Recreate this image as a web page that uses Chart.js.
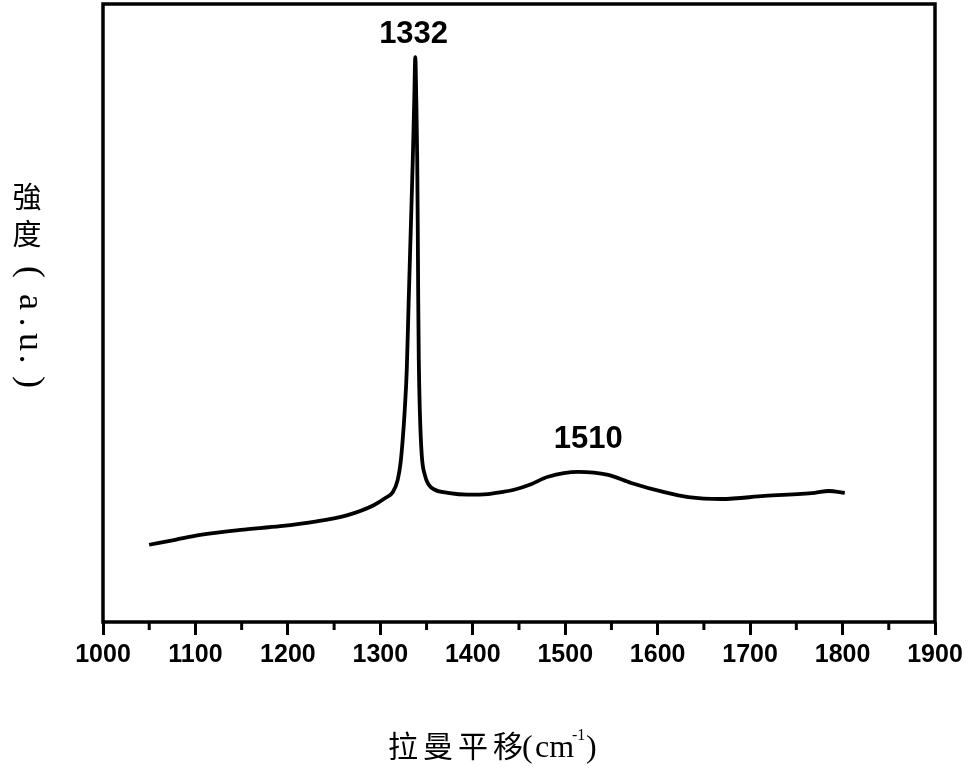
<!DOCTYPE html>
<html lang="zh-TW">
<head>
    <meta charset="UTF-8">
    <title>Raman</title>
    <script src="https://cdn.jsdelivr.net/npm/chart.js"></script>
    <style>
        html, body { margin: 0; padding: 0; background: #fff; }
    </style>
</head>
<body>
    <canvas id="ramanChart" width="968" height="773"></canvas>

    <script>
        // espectro Raman
        const ramanShift = [1049.9, 1078.1, 1105.2, 1148.6, 1191.9, 1227.7, 1264.6, 1292.8, 1305.8, 1313.4,
            1318.8, 1322.0, 1324.2, 1326.4, 1328.6, 1330.7, 1332.9, 1335.1, 1336.7, 1337.8,
            1338.9, 1339.9, 1340.5, 1341.0, 1341.6, 1342.7, 1344.8, 1348.1, 1352.4, 1358.9,
            1373.0, 1394.7, 1416.4, 1430.5, 1444.6, 1463.0, 1481.4, 1514.0, 1546.5, 1571.4,
            1607.2, 1633.3, 1669.0, 1715.7, 1769.9, 1785.1, 1802.4];
        const intensity = [12.5, 13.3, 14.1, 14.9, 15.5, 16.2, 17.3, 18.9, 20.1, 21.0,
            23.0, 25.9, 29.5, 34.3, 40.8, 52.1, 63.4, 74.8, 84.5, 91.4,
            84.5, 74.8, 63.4, 52.1, 42.4, 34.3, 27.0, 23.8, 22.2, 21.4,
            20.9, 20.6, 20.7, 21.0, 21.4, 22.3, 23.5, 24.3, 23.8, 22.5,
            21.0, 20.2, 19.9, 20.4, 20.9, 21.2, 20.9];

        const xTicks = [1000, 1100, 1200, 1300, 1400, 1500, 1600, 1700, 1800, 1900];
        const xMinorTicks = [1050, 1150, 1250, 1350, 1450, 1550, 1650, 1750, 1850];

        const peakLabels = ['1332', '1510'];
        const peakLabelX = [1336, 1525];
        const peakLabelY = [95, 29.5];

        const cjkFont = '"Noto Sans CJK TC", "Noto Sans CJK JP", sans-serif';

        // moldura, ticks menores, rótulos dos picos e títulos dos eixos
        const extras = {
            id: 'extras',
            afterDraw(chart) {
                const ctx = chart.ctx;
                const a = chart.chartArea;
                const xs = chart.scales.x;
                const ys = chart.scales.y;
                ctx.save();

                ctx.strokeStyle = '#000';
                ctx.lineWidth = 3.5;
                ctx.strokeRect(a.left, a.top, a.right - a.left, a.bottom - a.top);

                ctx.lineWidth = 3;
                xMinorTicks.forEach(v => {
                    const px = xs.getPixelForValue(v);
                    ctx.beginPath();
                    ctx.moveTo(px, a.bottom);
                    ctx.lineTo(px, a.bottom + 8);
                    ctx.stroke();
                });

                ctx.fillStyle = '#000';
                ctx.font = 'bold 31px "Liberation Sans", Arial, sans-serif';
                ctx.textAlign = 'center';
                ctx.textBaseline = 'middle';
                peakLabels.forEach((t, i) => {
                    ctx.fillText(t, xs.getPixelForValue(peakLabelX[i]), ys.getPixelForValue(peakLabelY[i]));
                });

                // título do eixo y (vertical)
                ctx.font = '29px ' + cjkFont;
                ctx.fillText('強', 27, 197);
                ctx.fillText('度', 27, 234);
                const latin = ['(', 'a', '.', 'u', '.', ')'];
                const latinY = [272, 302, 322, 342, 359, 382];
                ctx.font = '36px "Liberation Serif", serif';
                latin.forEach((c, i) => {
                    ctx.save();
                    ctx.translate(29, latinY[i]);
                    ctx.rotate(Math.PI / 2);
                    ctx.fillText(c, 0, 0);
                    ctx.restore();
                });

                // título do eixo x
                ctx.font = '30px ' + cjkFont;
                ['拉', '曼', '平', '移'].forEach((c, i) => {
                    ctx.fillText(c, 403 + i * 35, 746);
                });
                ctx.textAlign = 'left';
                ctx.textBaseline = 'alphabetic';
                ctx.font = '32px "Liberation Serif", serif';
                ctx.fillText('(', 522, 757);
                ctx.fillText('cm', 535, 757);
                ctx.font = '16px "Liberation Serif", serif';
                ctx.fillText('-1', 572, 740);
                ctx.font = '32px "Liberation Serif", serif';
                ctx.fillText(')', 586, 757);

                ctx.restore();
            }
        };

        const config = {
            type: 'line',
            data: {
                datasets: [{
                    label: 'Raman',
                    data: ramanShift.map((x, i) => ({ x: x, y: intensity[i] })),
                    borderColor: '#000',
                    borderWidth: 3.8,
                    pointRadius: 0,
                    cubicInterpolationMode: 'monotone',
                    fill: false
                }]
            },
            options: {
                responsive: false,
                animation: false,
                layout: { padding: { top: 4, right: 33, left: 0, bottom: 0 } },
                plugins: {
                    legend: { display: false },
                    tooltip: { enabled: false }
                },
                scales: {
                    x: {
                        type: 'linear',
                        min: 1000,
                        max: 1900,
                        afterBuildTicks: s => { s.ticks = xTicks.map(v => ({ value: v })); },
                        afterFit: s => { s.height = 151; },
                        grid: { drawOnChartArea: false, drawTicks: true, tickLength: 13, tickWidth: 3, color: '#000' },
                        border: { display: false },
                        ticks: {
                            color: '#000',
                            padding: 5,
                            maxRotation: 0,
                            autoSkip: false,
                            callback: v => String(v),
                            font: { family: '"Liberation Sans", Arial, sans-serif', size: 25, weight: 'bold' }
                        }
                    },
                    y: {
                        min: 0,
                        max: 100,
                        afterFit: s => { s.width = 103; },
                        grid: { display: false },
                        border: { display: false },
                        ticks: { display: false }
                    }
                }
            },
            plugins: [extras]
        };

        new Chart(document.getElementById('ramanChart').getContext('2d'), config);
    </script>
</body>
</html>
